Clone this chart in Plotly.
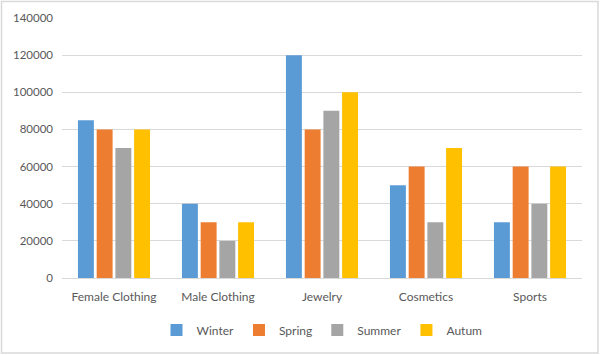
import plotly.graph_objects as go

categories = ["Female Clothing", "Male Clothing", "Jewelry", "Cosmetics", "Sports"]
series_names = ["Winter", "Spring", "Summer", "Autum"]
winter = [85000, 40000, 120000, 50000, 30000]
spring = [80000, 30000, 80000, 60000, 60000]
summer = [70000, 20000, 90000, 30000, 40000]
autum = [80000, 30000, 100000, 70000, 60000]
colors = ["#5B9BD5", "#ED7D31", "#A5A5A5", "#FFC000"]
y_ticks = [0, 20000, 40000, 60000, 80000, 100000, 120000, 140000]

fig = go.Figure()
for name, vals, c in zip(series_names, [winter, spring, summer, autum], colors):
    fig.add_trace(go.Bar(name=name, x=categories, y=vals, marker=dict(color=c, line=dict(width=0))))

L, R, T, B = 62, 18, 18, 77
W, H = 600, 355
pw, ph = W - L - R, H - T - B

fig.update_layout(
    width=W, height=H,
    margin=dict(l=L, r=R, t=T, b=B, pad=0, autoexpand=False),
    paper_bgcolor="white", plot_bgcolor="white",
    barmode="group", bargap=0.28, bargroupgap=0.15,
    font=dict(family="Lato, Open Sans, sans-serif", size=11.5, color="#595959"),
    xaxis=dict(showgrid=False, showline=True, linecolor="#D9D9D9", linewidth=1,
               ticks="", ticklabelstandoff=8, tickfont=dict(size=12, color="#595959")),
    yaxis=dict(range=[0, 140000], tickvals=y_ticks, ticktext=[str(v) for v in y_ticks],
               showgrid=True, gridcolor="#D9D9D9", gridwidth=1, zeroline=False,
               showline=False, ticks="", ticklen=0, ticklabelstandoff=8,
               tickfont=dict(size=11.5, color="#595959")),
    legend=dict(orientation="h", x=0.5, xanchor="center", y=(T + ph - 330) / ph, yanchor="middle",
                font=dict(size=12, color="#595959"), itemclick=False, itemwidth=30),
    showlegend=True,
)

fig.add_shape(type="rect", xref="paper", yref="paper",
              x0=(1.5 - L) / pw, x1=(W - 2 - L) / pw,
              y0=(T + ph - (H - 2)) / ph, y1=(T + ph - 1.5) / ph,
              line=dict(color="#D9D9D9", width=1.5), fillcolor="rgba(0,0,0,0)", layer="below")

fig.write_html("out.html", config={"displayModeBar": False},
               post_script="document.body.style.margin='0';document.body.style.overflow='hidden';")
